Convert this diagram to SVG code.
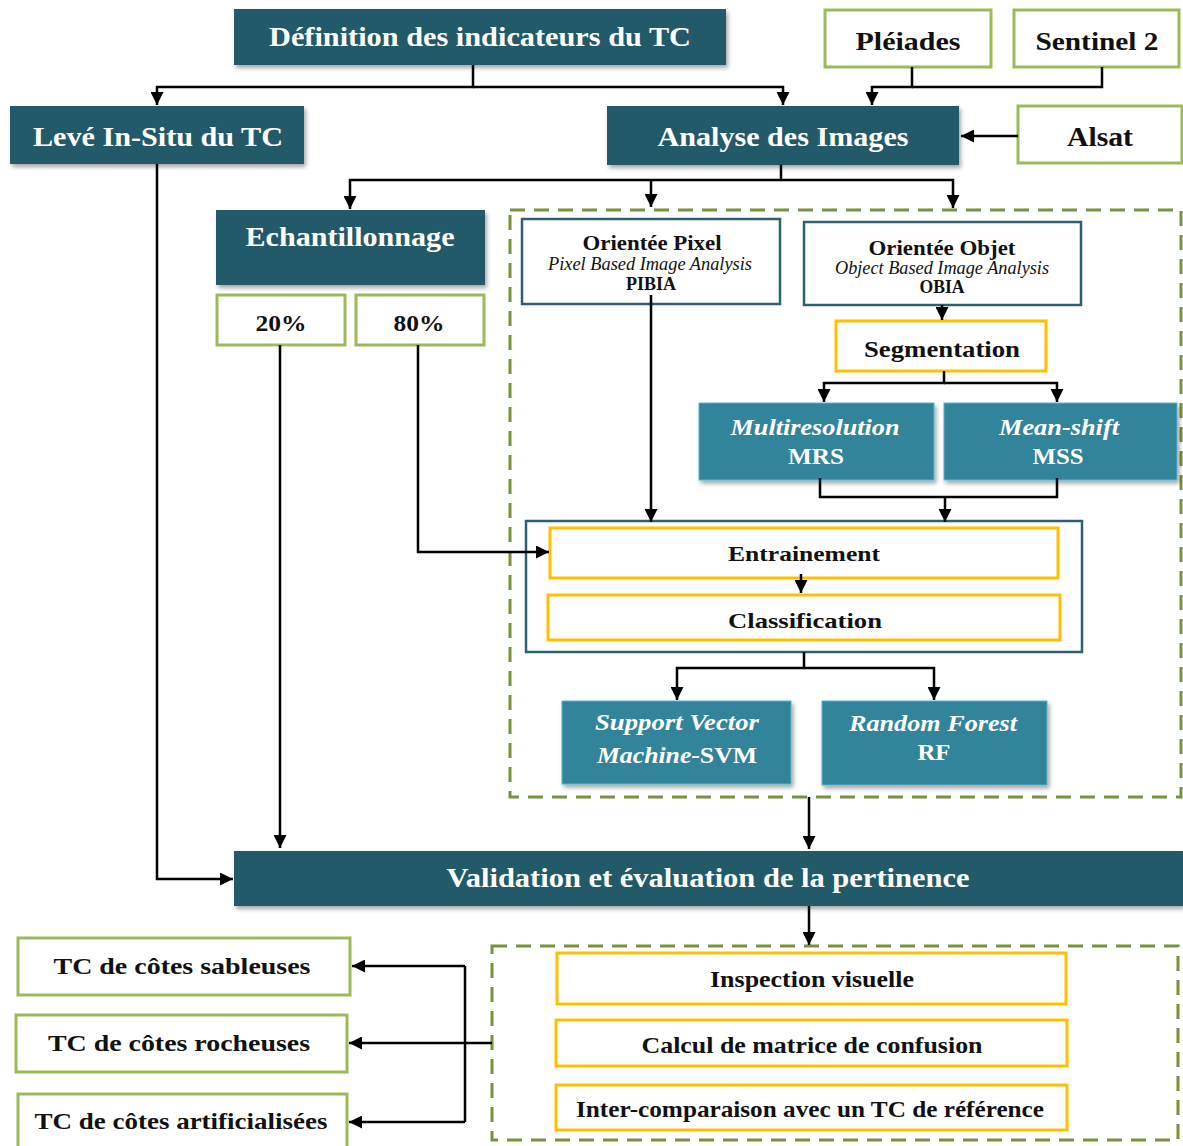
<svg xmlns="http://www.w3.org/2000/svg" width="1183" height="1146" viewBox="0 0 1183 1146" font-family="Liberation Serif, serif">
<style>
text{font-weight:bold;text-anchor:middle}
.dk{fill:#225A69;filter:url(#sh)}
.lt{fill:#31849B;stroke:#5BB3CC;stroke-width:1;filter:url(#sh)}
.gr{fill:#fff;stroke:#9BBB59;stroke-width:3}
.yl{fill:#fff;stroke:#FFC000;stroke-width:3}
.tl{fill:#fff;stroke:#2E6070;stroke-width:2.5}
.ds{fill:none;stroke:#77933C;stroke-width:3;stroke-dasharray:15,9}
.w{fill:#fff}
.b{fill:#111}
.i{font-style:italic}
.n{font-weight:normal}
#conn path{fill:none;stroke:#000;stroke-width:2.5}
</style>
<defs>
<filter id="sh" x="-5%" y="-10%" width="112%" height="130%">
<feDropShadow dx="2" dy="3" stdDeviation="2" flood-color="#000" flood-opacity="0.35"/>
</filter>
<marker id="ah" viewBox="0 0 10 10" refX="10" refY="5" markerWidth="13" markerHeight="13" markerUnits="userSpaceOnUse" orient="auto">
<path d="M0,0 L10,5 L0,10 z" fill="#000"/>
</marker>
</defs>
<rect width="1183" height="1146" fill="#fff"/>

<g id="dashed-analysis"><rect class="ds" x="510" y="210" width="671" height="587"/></g>
<g id="dashed-validation"><rect class="ds" x="492" y="946" width="686" height="194"/></g>

<g id="definition"><rect class="dk" x="234" y="9" width="492" height="56"/><text class="w" x="480" y="46" font-size="28" textLength="422" lengthAdjust="spacingAndGlyphs">Définition des indicateurs du TC</text></g>
<g id="pleiades"><rect class="gr" x="825" y="10" width="166" height="57"/><text class="b" x="908" y="50" font-size="26" textLength="105" lengthAdjust="spacingAndGlyphs">Pléiades</text></g>
<g id="sentinel"><rect class="gr" x="1014" y="10" width="165" height="57"/><text class="b" x="1097" y="50" font-size="26" textLength="123" lengthAdjust="spacingAndGlyphs">Sentinel 2</text></g>
<g id="leve"><rect class="dk" x="10" y="106" width="294" height="58"/><text class="w" x="158" y="146" font-size="28" textLength="250" lengthAdjust="spacingAndGlyphs">Levé In-Situ du TC</text></g>
<g id="analyse"><rect class="dk" x="607" y="106" width="352" height="59"/><text class="w" x="783" y="146" font-size="28" textLength="251" lengthAdjust="spacingAndGlyphs">Analyse des Images</text></g>
<g id="alsat"><rect class="gr" x="1018" y="106" width="164" height="57"/><text class="b" x="1100" y="146" font-size="28" textLength="66" lengthAdjust="spacingAndGlyphs">Alsat</text></g>
<g id="echantillonnage"><rect class="dk" x="216" y="210" width="269" height="75"/><text class="w" x="350" y="246" font-size="28" textLength="209" lengthAdjust="spacingAndGlyphs">Echantillonnage</text></g>
<g id="p20"><rect class="gr" x="217" y="295" width="128" height="50"/><text class="b" x="281" y="331" font-size="24" textLength="51" lengthAdjust="spacingAndGlyphs">20%</text></g>
<g id="p80"><rect class="gr" x="356" y="295" width="128" height="50"/><text class="b" x="419" y="331" font-size="24" textLength="51" lengthAdjust="spacingAndGlyphs">80%</text></g>
<g id="pixel"><rect class="tl" x="522" y="219" width="258" height="85"/>
<text class="b" x="652" y="250" font-size="21" textLength="139" lengthAdjust="spacingAndGlyphs">Orientée Pixel</text>
<text class="b i n" x="650" y="270" font-size="18" textLength="204" lengthAdjust="spacingAndGlyphs">Pixel Based Image Analysis</text>
<text class="b" x="651" y="290" font-size="19" textLength="50" lengthAdjust="spacingAndGlyphs">PIBIA</text></g>
<g id="objet"><rect class="tl" x="804" y="222" width="277" height="83"/>
<text class="b" x="942" y="255" font-size="21" textLength="147" lengthAdjust="spacingAndGlyphs">Orientée Objet</text>
<text class="b i n" x="942" y="274" font-size="18" textLength="214" lengthAdjust="spacingAndGlyphs">Object Based Image Analysis</text>
<text class="b" x="942" y="293" font-size="19" textLength="45" lengthAdjust="spacingAndGlyphs">OBIA</text></g>
<g id="segmentation"><rect class="yl" x="836" y="321" width="210" height="50"/><text class="b" x="942" y="357" font-size="24" textLength="156" lengthAdjust="spacingAndGlyphs">Segmentation</text></g>
<g id="mrs"><rect class="lt" x="699" y="403" width="235" height="77"/><text class="w i" x="815" y="435" font-size="24" textLength="169" lengthAdjust="spacingAndGlyphs">Multiresolution</text><text class="w" x="816" y="464" font-size="24" textLength="56" lengthAdjust="spacingAndGlyphs">MRS</text></g>
<g id="mss"><rect class="lt" x="944" y="403" width="233" height="77"/><text class="w i" x="1059" y="435" font-size="24" textLength="120" lengthAdjust="spacingAndGlyphs">Mean-shift</text><text class="w" x="1058" y="464" font-size="24" textLength="51" lengthAdjust="spacingAndGlyphs">MSS</text></g>
<g id="apprentissage"><rect class="tl" x="526" y="521" width="556" height="131"/>
<g id="entrainement"><rect class="yl" x="550" y="528" width="508" height="50"/><text class="b" x="804" y="561" font-size="22" textLength="152" lengthAdjust="spacingAndGlyphs">Entrainement</text></g>
<g id="classification"><rect class="yl" x="548" y="595" width="512" height="45"/><text class="b" x="805" y="628" font-size="22" textLength="154" lengthAdjust="spacingAndGlyphs">Classification</text></g></g>
<g id="svm"><rect class="lt" x="562" y="701" width="229" height="83"/><text class="w i" x="677" y="730" font-size="24" textLength="164" lengthAdjust="spacingAndGlyphs">Support Vector</text><text class="w" x="677" y="763" font-size="24" textLength="160" lengthAdjust="spacingAndGlyphs"><tspan font-style="italic">Machine</tspan>-SVM</text></g>
<g id="rf"><rect class="lt" x="822" y="701" width="225" height="84"/><text class="w i" x="933" y="731" font-size="24" textLength="168" lengthAdjust="spacingAndGlyphs">Random Forest</text><text class="w" x="934" y="760" font-size="24" textLength="33" lengthAdjust="spacingAndGlyphs">RF</text></g>
<g id="validation"><rect class="dk" x="234" y="851" width="949" height="55"/><text class="w" x="708" y="887" font-size="27" textLength="523" lengthAdjust="spacingAndGlyphs">Validation et évaluation de la pertinence</text></g>
<g id="inspection"><rect class="yl" x="557" y="953" width="509" height="51"/><text class="b" x="812" y="987" font-size="23" textLength="204" lengthAdjust="spacingAndGlyphs">Inspection visuelle</text></g>
<g id="calcul"><rect class="yl" x="556" y="1020" width="511" height="46"/><text class="b" x="812" y="1053" font-size="23" textLength="341" lengthAdjust="spacingAndGlyphs">Calcul de matrice de confusion</text></g>
<g id="intercomp"><rect class="yl" x="556" y="1085" width="511" height="45"/><text class="b" x="810" y="1117" font-size="23" textLength="468" lengthAdjust="spacingAndGlyphs">Inter-comparaison avec un TC de référence</text></g>
<g id="sableuses"><rect class="gr" x="18" y="938" width="332" height="57"/><text class="b" x="182" y="974" font-size="24" textLength="257" lengthAdjust="spacingAndGlyphs">TC de côtes sableuses</text></g>
<g id="rocheuses"><rect class="gr" x="16" y="1015" width="331" height="57"/><text class="b" x="179" y="1051" font-size="24" textLength="262" lengthAdjust="spacingAndGlyphs">TC de côtes rocheuses</text></g>
<g id="artificialisees"><rect class="gr" x="18" y="1094" width="329" height="60"/><text class="b" x="181" y="1129" font-size="24" textLength="293" lengthAdjust="spacingAndGlyphs">TC de côtes artificialisées</text></g>

<g id="conn">
<path d="M473,65 V87 H157 V105" marker-end="url(#ah)"/>
<path d="M473,87 H783 V105" marker-end="url(#ah)"/>
<path d="M912,67 V87 H872 V105" marker-end="url(#ah)"/>
<path d="M1102,67 V87 H912"/>
<path d="M1018,136 H961" marker-end="url(#ah)"/>
<path d="M781,165 V180 H350 V209" marker-end="url(#ah)"/>
<path d="M781,180 H953 V208" marker-end="url(#ah)"/>
<path d="M651,180 V207" marker-end="url(#ah)"/>
<path d="M157,164 V879 H233" marker-end="url(#ah)"/>
<path d="M280,345 V848" marker-end="url(#ah)"/>
<path d="M418,345 V552 H549" marker-end="url(#ah)"/>
<path d="M651,295 V522" marker-end="url(#ah)"/>
<path d="M942,305 V320" marker-end="url(#ah)"/>
<path d="M944,371 V383 H824 V402" marker-end="url(#ah)"/>
<path d="M944,383 H1057 V402" marker-end="url(#ah)"/>
<path d="M820,478 V497 H1057 V478"/>
<path d="M945,497 V522" marker-end="url(#ah)"/>
<path d="M801,574 V593" marker-end="url(#ah)"/>
<path d="M804,652 V668 H677 V700" marker-end="url(#ah)"/>
<path d="M804,668 H934 V700" marker-end="url(#ah)"/>
<path d="M809,797 V849" marker-end="url(#ah)"/>
<path d="M809,906 V945" marker-end="url(#ah)"/>
<path d="M492,1043 H349" marker-end="url(#ah)"/>
<path d="M465,966 V1122"/>
<path d="M465,966 H352" marker-end="url(#ah)"/>
<path d="M465,1122 H349" marker-end="url(#ah)"/>
</g>
</svg>
